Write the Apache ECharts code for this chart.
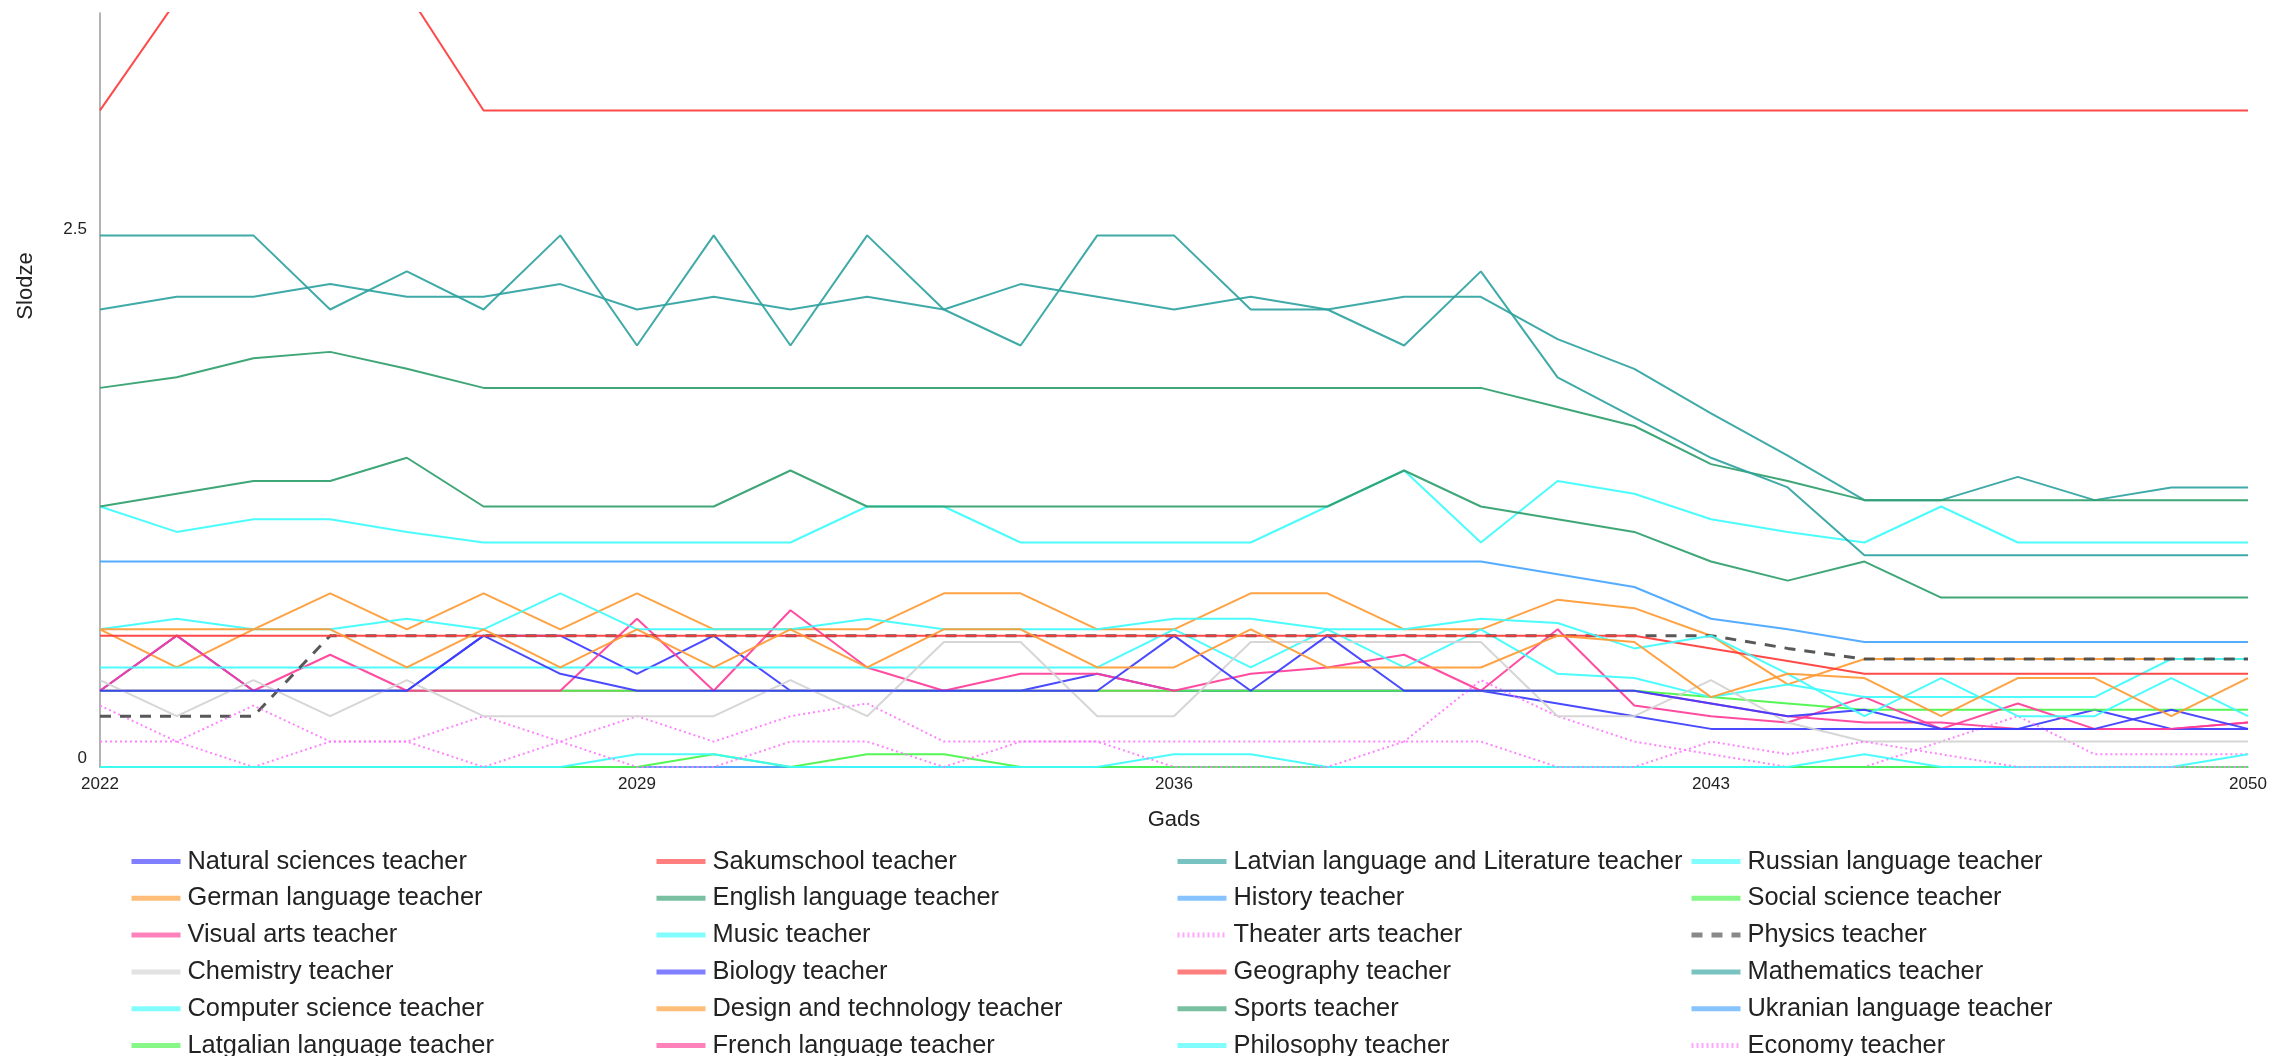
<!DOCTYPE html>
<html>
<head>
<meta charset="utf-8">
<script src="https://cdn.jsdelivr.net/npm/echarts@6/dist/echarts.min.js"></script>
<style>
  html, body { margin: 0; padding: 0; background: #fff; }
  #chart { width: 2272px; height: 1056px; }
</style>
</head>
<body>
<div id="chart"></div>
<script>
// Years on the horizontal axis
const years = ['2022','2023','2024','2025','2026','2027','2028','2029','2030','2031',
  '2032','2033','2034','2035','2036','2037','2038','2039','2040','2041',
  '2042','2043','2044','2045','2046','2047','2048','2049','2050'];

// Load (Slodze) per teacher group, one value per year
const naturalSciences = [0.36,0.62,0.36,0.36,0.36,0.62,0.62,0.44,0.62,0.36, 0.36,0.36,0.36,0.44,0.36,0.36,0.36,0.36,0.36,0.30, 0.24,0.18,0.18,0.18,0.18,0.18,0.27,0.18,0.18];
const sakumschool = [3.10,3.62,3.90,3.90,3.66,3.10,3.10,3.10,3.10,3.10, 3.10,3.10,3.10,3.10,3.10,3.10,3.10,3.10,3.10,3.10, 3.10,3.10,3.10,3.10,3.10,3.10,3.10,3.10,3.10];
const latvian = [2.16,2.22,2.22,2.28,2.22,2.22,2.28,2.16,2.22,2.16, 2.22,2.16,2.28,2.22,2.16,2.22,2.16,2.22,2.22,2.02, 1.88,1.67,1.47,1.26,1.26,1.37,1.26,1.32,1.32];
const russian = [1.23,1.11,1.17,1.17,1.11,1.06,1.06,1.06,1.06,1.06, 1.23,1.23,1.06,1.06,1.06,1.06,1.23,1.40,1.06,1.35, 1.29,1.17,1.11,1.06,1.23,1.06,1.06,1.06,1.06];
const german = [0.65,0.47,0.65,0.82,0.65,0.82,0.65,0.82,0.65,0.65, 0.65,0.82,0.82,0.65,0.65,0.82,0.82,0.65,0.65,0.79, 0.75,0.62,0.39,0.51,0.51,0.51,0.51,0.51,0.51];
const english = [1.79,1.84,1.93,1.96,1.88,1.79,1.79,1.79,1.79,1.79, 1.79,1.79,1.79,1.79,1.79,1.79,1.79,1.79,1.79,1.70, 1.61,1.43,1.35,1.26,1.26,1.26,1.26,1.26,1.26];
const history = [0.97,0.97,0.97,0.97,0.97,0.97,0.97,0.97,0.97,0.97, 0.97,0.97,0.97,0.97,0.97,0.97,0.97,0.97,0.97,0.91, 0.85,0.70,0.65,0.59,0.59,0.59,0.59,0.59,0.59];
const socialScience = [0.36,0.36,0.36,0.36,0.36,0.36,0.36,0.36,0.36,0.36, 0.36,0.36,0.36,0.36,0.36,0.36,0.36,0.36,0.36,0.36, 0.36,0.33,0.30,0.27,0.27,0.27,0.27,0.27,0.27];
const visualArts = [0.36,0.62,0.36,0.53,0.36,0.36,0.36,0.70,0.36,0.74, 0.47,0.36,0.44,0.44,0.36,0.44,0.47,0.53,0.36,0.65, 0.29,0.24,0.21,0.33,0.18,0.30,0.18,0.18,0.21];
const music = [0.47,0.47,0.47,0.47,0.47,0.47,0.47,0.47,0.47,0.47, 0.47,0.47,0.47,0.47,0.65,0.47,0.65,0.47,0.65,0.44, 0.42,0.33,0.39,0.33,0.33,0.33,0.33,0.51,0.51];
const theaterArts = [0.29,0.12,0.00,0.12,0.12,0.24,0.12,0.24,0.12,0.24, 0.30,0.12,0.12,0.12,0.12,0.12,0.12,0.12,0.41,0.24, 0.12,0.06,0.00,0.00,0.12,0.24,0.06,0.06,0.06];
const physics = [0.24,0.24,0.24,0.62,0.62,0.62,0.62,0.62,0.62,0.62, 0.62,0.62,0.62,0.62,0.62,0.62,0.62,0.62,0.62,0.62, 0.62,0.62,0.56,0.51,0.51,0.51,0.51,0.51,0.51];
const chemistry = [0.41,0.24,0.41,0.24,0.41,0.24,0.24,0.24,0.24,0.41, 0.24,0.59,0.59,0.24,0.24,0.59,0.59,0.59,0.59,0.24, 0.24,0.41,0.21,0.12,0.12,0.12,0.12,0.12,0.12];
const biology = [0.36,0.36,0.36,0.36,0.36,0.62,0.44,0.36,0.36,0.36, 0.36,0.36,0.36,0.36,0.62,0.36,0.62,0.36,0.36,0.36, 0.36,0.30,0.24,0.27,0.18,0.18,0.18,0.27,0.18];
const geography = [0.62,0.62,0.62,0.62,0.62,0.62,0.62,0.62,0.62,0.62, 0.62,0.62,0.62,0.62,0.62,0.62,0.62,0.62,0.62,0.62, 0.62,0.56,0.50,0.44,0.44,0.44,0.44,0.44,0.44];
const mathematics = [2.51,2.51,2.51,2.16,2.34,2.16,2.51,1.99,2.51,1.99, 2.51,2.16,1.99,2.51,2.51,2.16,2.16,1.99,2.34,1.84, 1.65,1.46,1.32,1.00,1.00,1.00,1.00,1.00,1.00];
const computerScience = [0.65,0.70,0.65,0.65,0.70,0.65,0.82,0.65,0.65,0.65, 0.70,0.65,0.65,0.65,0.70,0.70,0.65,0.65,0.70,0.68, 0.56,0.62,0.44,0.24,0.42,0.24,0.24,0.42,0.24];
const designTech = [0.65,0.65,0.65,0.65,0.47,0.65,0.47,0.65,0.47,0.65, 0.47,0.65,0.65,0.47,0.47,0.65,0.47,0.47,0.47,0.62, 0.59,0.33,0.44,0.42,0.24,0.42,0.42,0.24,0.42];
const sports = [1.23,1.29,1.35,1.35,1.46,1.23,1.23,1.23,1.23,1.40, 1.23,1.23,1.23,1.23,1.23,1.23,1.23,1.40,1.23,1.17, 1.11,0.97,0.88,0.97,0.80,0.80,0.80,0.80,0.80];
const ukranian = [0,0,0,0,0,0,0,0,0,0, 0,0,0,0,0,0,0,0,0,0, 0,0,0,0,0,0,0,0,0];
const latgalian = [0,0,0,0,0,0,0,0,0.06,0, 0.06,0.06,0,0,0,0,0,0,0,0, 0,0,0,0,0,0,0,0,0];
const french = [0.36,0.36,0.36,0.36,0.36,0.36,0.36,0.36,0.36,0.36, 0.36,0.36,0.36,0.36,0.36,0.36,0.36,0.36,0.36,0.36, 0.36,0.30,0.24,0.21,0.21,0.18,0.18,0.18,0.21];
const philosophy = [0,0,0,0,0,0,0,0.06,0.06,0, 0,0,0,0,0.06,0.06,0,0,0,0, 0,0,0,0.06,0,0,0,0,0.06];
const economy = [0.12,0.12,0.29,0.12,0.12,0.00,0.12,0.00,0.00,0.12, 0.12,0.00,0.12,0.12,0.00,0.00,0.00,0.12,0.12,0.00, 0.00,0.12,0.06,0.12,0.06,0.00,0.00,0.00,0.00];

// Y axis tick values shown
const yTicks = [0, 2.5];

const BLUE = '#3b3bff', RED = '#ff3b3b', TEAL = '#2fa3a0', CYAN = '#3dfcfc',
      ORANGE = '#ff9a33', GREEN = '#2f9e6c', LBLUE = '#47a5ff', LGREEN = '#46f546',
      PINK = '#ff3d98', VIOLET = '#ff78ff', DARK = '#4a4a4a', GREY = '#d2d2d2';

const seriesDefs = [
  ['Natural sciences teacher', naturalSciences, BLUE],
  ['Sakumschool teacher', sakumschool, RED],
  ['Latvian language and Literature teacher', latvian, TEAL],
  ['Russian language teacher', russian, CYAN],
  ['German language teacher', german, ORANGE],
  ['English language teacher', english, GREEN],
  ['History teacher', history, LBLUE],
  ['Social science teacher', socialScience, LGREEN],
  ['Visual arts teacher', visualArts, PINK],
  ['Music teacher', music, CYAN],
  ['Theater arts teacher', theaterArts, VIOLET, [2, 3]],
  ['Physics teacher', physics, DARK, [11, 9]],
  ['Chemistry teacher', chemistry, GREY],
  ['Biology teacher', biology, BLUE],
  ['Geography teacher', geography, RED],
  ['Mathematics teacher', mathematics, TEAL],
  ['Computer science teacher', computerScience, CYAN],
  ['Design and technology teacher', designTech, ORANGE],
  ['Sports teacher', sports, GREEN],
  ['Ukranian language teacher', ukranian, LBLUE],
  ['Latgalian language teacher', latgalian, LGREEN],
  ['French language teacher', french, PINK],
  ['Philosophy teacher', philosophy, CYAN],
  ['Economy teacher', economy, VIOLET, [2, 3]]
];

const series = seriesDefs.map(function (d) {
  const dashed = !!d[3];
  return {
    type: 'line',
    name: d[0],
    data: d[1],
    symbol: 'none',
    z: d[0] === 'French language teacher' ? 1 : 2,
    lineStyle: {
      color: d[2],
      width: d[0] === 'Physics teacher' ? 3 : 2,
      type: dashed ? d[3] : 'solid',
      opacity: 0.92
    },
    itemStyle: { color: d[2] },
    emphasis: { disabled: true }
  };
});

// Four legend columns, filled row by row
const FONT = '"Liberation Sans", Arial, sans-serif';
const colLeft = [129, 654, 1175, 1689];
const legends = colLeft.map(function (left, c) {
  return {
    orient: 'vertical',
    left: left,
    top: 849,
    height: 220,
    padding: 0,
    itemWidth: 49,
    itemHeight: 14,
    itemGap: 11.8,
    selectedMode: false,
    data: seriesDefs.filter(function (_, i) { return i % 4 === c; }).map(function (d) { return d[0]; }),
    textStyle: { fontSize: 25.4, color: '#222', fontFamily: FONT, padding: [0, 0, 0, 2] },
    lineStyle: { width: 5, opacity: 0.65 },
    itemStyle: { color: 'rgba(0,0,0,0)', borderWidth: 0, opacity: 0 }
  };
});

const chart = echarts.init(document.getElementById('chart'), null, { renderer: 'canvas' });
chart.setOption({
  animation: false,
  backgroundColor: '#ffffff',
  textStyle: { fontFamily: FONT },
  grid: { left: 100, right: 24, top: 13, bottom: 289, containLabel: false },
  legend: legends,
  graphic: [{
    type: 'text',
    x: 26, y: 286,
    rotation: Math.PI / 2,
    style: { text: 'Slodze', font: '22px ' + FONT, fill: '#222', align: 'center', verticalAlign: 'middle' }
  }],
  xAxis: {
    type: 'category',
    data: years,
    boundaryGap: false,
    name: 'Gads',
    nameLocation: 'middle',
    nameGap: 42,
    nameTextStyle: { fontSize: 22, color: '#222', fontFamily: FONT },
    axisLine: { show: true, lineStyle: { color: '#9a9a9a', width: 1.5 } },
    axisTick: { show: false },
    axisLabel: { interval: 6, fontSize: 17, color: '#222', margin: 9, fontFamily: FONT },
    splitLine: { show: false }
  },
  yAxis: {
    type: 'value',
    min: 0,
    max: 3.56,
    interval: 2.5,
    axisLine: { show: true, lineStyle: { color: '#9a9a9a', width: 1.5 } },
    axisTick: { show: false },
    splitLine: { show: false },
    axisLabel: {
      showMaxLabel: false,
      fontSize: 17, color: '#222', margin: 13, fontFamily: FONT,
      verticalAlign: 'bottom',
      formatter: function (v) { return yTicks.indexOf(v) >= 0 ? String(v) : ''; }
    }
  },
  series: series
});
</script>
</body>
</html>
